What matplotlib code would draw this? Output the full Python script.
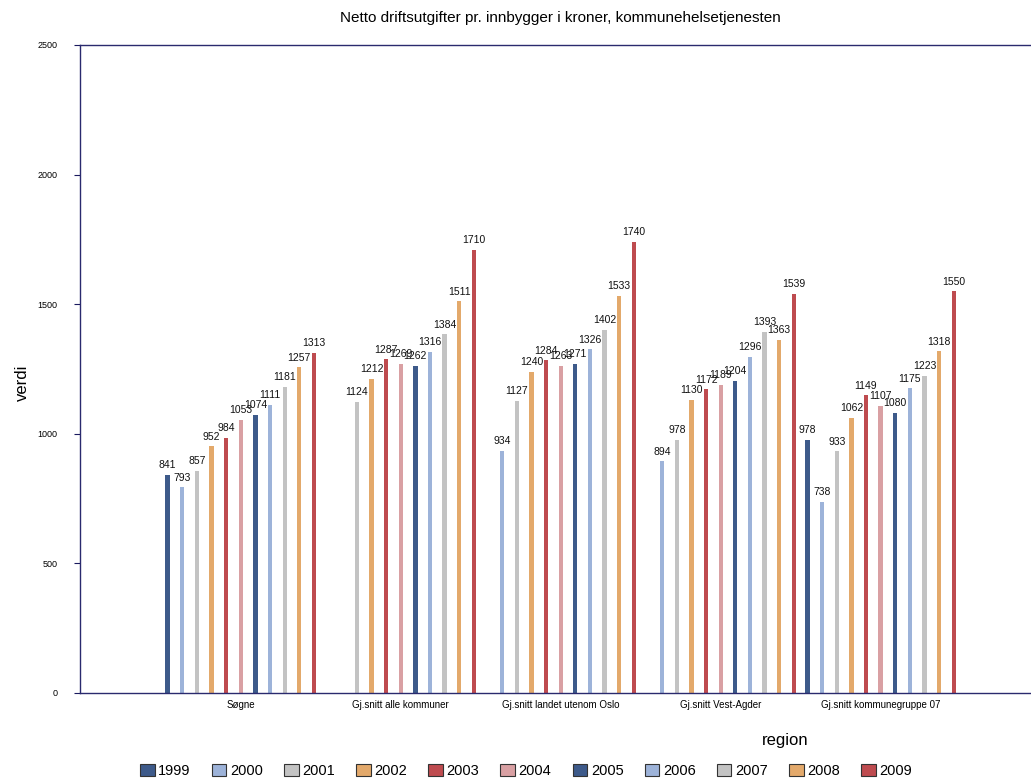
import matplotlib
matplotlib.use("Agg")
import matplotlib.pyplot as plt
import numpy as np
from matplotlib.patches import Patch

plt.rcParams['font.family'] = ['Liberation Sans', 'DejaVu Sans']

regions = ["Søgne", "Gj.snitt alle kommuner", "Gj.snitt landet utenom Oslo",
           "Gj.snitt Vest-Agder", "Gj.snitt kommunegruppe 07"]
years = ["1999", "2000", "2001", "2002", "2003", "2004", "2005", "2006", "2007", "2008", "2009"]

v_sogne = [841, 793, 857, 952, 984, 1053, 1074, 1111, 1181, 1257, 1313]
v_alle = [None, None, 1124, 1212, 1287, 1269, 1262, 1316, 1384, 1511, 1710]
v_utenom_oslo = [None, 934, 1127, 1240, 1284, 1263, 1271, 1326, 1402, 1533, 1740]
v_vest_agder = [None, 894, 978, 1130, 1172, 1189, 1204, 1296, 1393, 1363, 1539]
v_gruppe07 = [978, 738, 933, 1062, 1149, 1107, 1080, 1175, 1223, 1318, 1550]

series_by_region = [v_sogne, v_alle, v_utenom_oslo, v_vest_agder, v_gruppe07]

colors = ["#3D5A8A", "#9DB3D9", "#C3C3C3", "#E3A96B", "#BE4B4F", "#D9A0A3",
          "#3D5A8A", "#9DB3D9", "#C3C3C3", "#E3A96B", "#BE4B4F"]

fig = plt.figure(figsize=(10.31, 7.8), dpi=100)
ax = fig.add_axes([80/1031, 1-693/780, 1-80/1031, (693-45)/780])

x = np.arange(len(regions))
step = 0.0915
width = 0.027
for yi, yr in enumerate(years):
    offs = (yi - 5) * step
    for ri in range(len(regions)):
        v = series_by_region[ri][yi]
        if v is None:
            continue
        ax.bar(x[ri] + offs, v, width=width, color=colors[yi], edgecolor='none')
        ax.text(x[ri] + offs, v + 18, str(v), ha='center', va='bottom', fontsize=7.5, color='#111111')

ax.set_xlim(-1.005, 4.94)
ax.set_ylim(0, 2500)
ax.set_yticks([0, 500, 1000, 1500, 2000, 2500])
ax.tick_params(axis='y', labelsize=6.5, length=4, direction='out', color='#1a1a5e', pad=12)
ax.set_xticks(x)
ax.set_xticklabels(regions, fontsize=7)
ax.tick_params(axis='x', length=0, pad=5)
for s in ['left', 'top', 'bottom']:
    ax.spines[s].set_color('#2a2a6e')
    ax.spines[s].set_linewidth(1.0)
ax.spines['right'].set_visible(False)

fig.text(560/1031, 1-18/780, "Netto driftsutgifter pr. innbygger i kroner, kommunehelsetjenesten",
         ha='center', va='center', fontsize=11)
fig.text(22/1031, 1-383/780, "verdi", rotation=90, ha='center', va='center', fontsize=12)
fig.text(785/1031, 1-740/780, "region", ha='center', va='center', fontsize=12)

handles = [Patch(facecolor=c, edgecolor='#333333', linewidth=0.8) for c in colors]
fig.legend(handles, years, loc='center', bbox_to_anchor=(526/1031, 1-771/780), ncol=11,
           frameon=False, fontsize=10.5, handlelength=1.0, handleheight=0.9,
           handletextpad=0.25, columnspacing=1.45)

fig.savefig("out.png", dpi=100)
